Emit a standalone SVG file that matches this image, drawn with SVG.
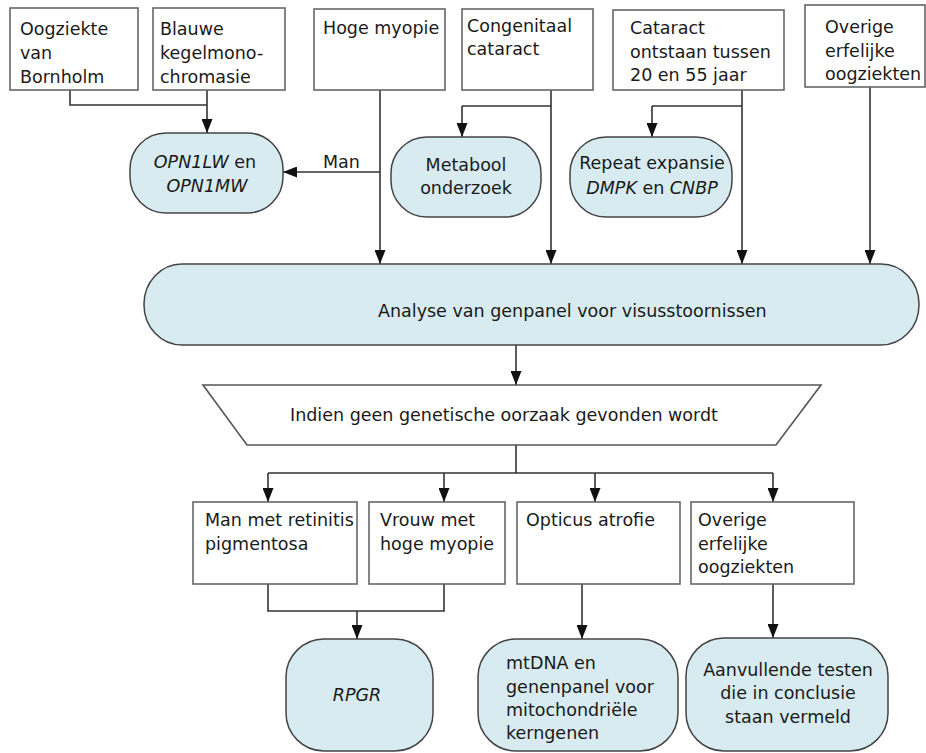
<svg xmlns="http://www.w3.org/2000/svg" width="926" height="753" viewBox="0 0 926 753">
<defs>
<marker id="ah" viewBox="0 0 14 11" refX="14" refY="5.5" markerWidth="14" markerHeight="11" markerUnits="userSpaceOnUse" orient="auto">
<path d="M0,0 L14,5.5 L0,11 z" fill="#111"/>
</marker>
<style>
.box{fill:#fff;stroke:#666;stroke-width:1.6}
.node{fill:#d7ebf0;stroke:#444;stroke-width:1.5}
.trap{fill:#fff;stroke:#555;stroke-width:1.6}
text{font-family:"DejaVu Sans","Liberation Sans",sans-serif;font-size:17.5px;fill:#1a1a1a}
.c{text-anchor:middle}
.it{font-style:italic}
.ln{fill:none;stroke:#333;stroke-width:1.6}
.la{fill:none;stroke:#333;stroke-width:1.6;marker-end:url(#ah)}
</style>
</defs>
<rect width="926" height="753" fill="#fff"/>

<g id="connectors">
<path class="ln" d="M70,90 V105 H207"/>
<path class="la" d="M207,90 V133"/>
<path class="la" d="M380,172 H283"/>
<path class="la" d="M380,90 V264"/>
<path class="ln" d="M551,106 H462"/>
<path class="la" d="M462,106 V137"/>
<path class="la" d="M551,90 V264"/>
<path class="ln" d="M742,106 H652"/>
<path class="la" d="M652,106 V137"/>
<path class="la" d="M742,90 V264"/>
<path class="la" d="M870,87 V264"/>
<path class="la" d="M516,345 V385"/>
<path class="ln" d="M516,445 V473 M268,473 H773"/>
<path class="la" d="M268,473 V502"/>
<path class="la" d="M444,473 V502"/>
<path class="la" d="M595,473 V502"/>
<path class="la" d="M773,473 V502"/>
<path class="ln" d="M268,584 V611 H444 V584"/>
<path class="la" d="M357,611 V639"/>
<path class="la" d="M582,584 V639"/>
<path class="la" d="M773,584 V638"/>
<text x="323" y="168">Man</text>
</g>

<g id="n-bornholm">
<rect class="box" x="10" y="8" width="128" height="82"/>
<text x="20" y="35">Oogziekte</text>
<text x="20" y="59">van</text>
<text x="20" y="83">Bornholm</text>
</g>
<g id="n-blauwe">
<rect class="box" x="153" y="8" width="132" height="82"/>
<text x="160" y="35">Blauwe</text>
<text x="160" y="59">kegelmono-</text>
<text x="160" y="83">chromasie</text>
</g>
<g id="n-hoge">
<rect class="box" x="314" y="9" width="131" height="81"/>
<text x="323" y="34">Hoge myopie</text>
</g>
<g id="n-congenitaal">
<rect class="box" x="462" y="9" width="131" height="81"/>
<text x="467" y="32">Congenitaal</text>
<text x="467" y="55">cataract</text>
</g>
<g id="n-cataract">
<rect class="box" x="613" y="10" width="171" height="80"/>
<text x="630" y="34">Cataract</text>
<text x="630" y="58">ontstaan tussen</text>
<text x="630" y="81">20 en 55 jaar</text>
</g>
<g id="n-overige-top">
<rect class="box" x="805" y="5" width="120" height="82"/>
<text x="825" y="33">Overige</text>
<text x="825" y="57">erfelijke</text>
<text x="825" y="80">oogziekten</text>
</g>

<g id="n-opn">
<rect class="node" x="130" y="133" width="153" height="80" rx="36" ry="36"/>
<text class="c" x="205" y="168"><tspan class="it">OPN1LW</tspan> en</text>
<text class="c it" x="207" y="192">OPN1MW</text>
</g>
<g id="n-metabool">
<rect class="node" x="391" y="137" width="150" height="80" rx="36" ry="36"/>
<text class="c" x="466" y="171">Metabool</text>
<text class="c" x="466" y="194">onderzoek</text>
</g>
<g id="n-repeat">
<rect class="node" x="570" y="137" width="162" height="80" rx="36" ry="36"/>
<text class="c" x="652" y="169">Repeat expansie</text>
<text class="c" x="652" y="194"><tspan class="it">DMPK</tspan> en <tspan class="it">CNBP</tspan></text>
</g>

<g id="n-analyse">
<rect class="node" x="144" y="264" width="775" height="81" rx="38" ry="40"/>
<text x="378" y="317">Analyse van genpanel voor visusstoornissen</text>
</g>

<g id="n-indien">
<path class="trap" d="M203,385 H821 L776,445 H247 Z"/>
<text x="290" y="421">Indien geen genetische oorzaak gevonden wordt</text>
</g>

<g id="n-man-rp">
<rect class="box" x="193" y="502" width="164" height="82"/>
<text x="205" y="526">Man met retinitis</text>
<text x="205" y="550">pigmentosa</text>
</g>
<g id="n-vrouw">
<rect class="box" x="369" y="502" width="136" height="82"/>
<text x="380" y="526">Vrouw met</text>
<text x="380" y="550">hoge myopie</text>
</g>
<g id="n-opticus">
<rect class="box" x="517" y="502" width="163" height="82"/>
<text x="526" y="526">Opticus atrofie</text>
</g>
<g id="n-overige-bottom">
<rect class="box" x="691" y="502" width="163" height="82"/>
<text x="698" y="526">Overige</text>
<text x="698" y="550">erfelijke</text>
<text x="698" y="573">oogziekten</text>
</g>

<g id="n-rpgr">
<rect class="node" x="286" y="639" width="147" height="112" rx="38" ry="38"/>
<text class="c it" x="357" y="701">RPGR</text>
</g>
<g id="n-mtdna">
<rect class="node" x="478" y="639" width="200" height="112" rx="38" ry="38"/>
<text x="506" y="669">mtDNA en</text>
<text x="506" y="693">genenpanel voor</text>
<text x="506" y="716">mitochondriële</text>
<text x="506" y="739">kerngenen</text>
</g>
<g id="n-aanvullende">
<rect class="node" x="686" y="638" width="202" height="113" rx="38" ry="38"/>
<text class="c" x="788" y="676">Aanvullende testen</text>
<text class="c" x="788" y="699">die in conclusie</text>
<text class="c" x="788" y="723">staan vermeld</text>
</g>
</svg>
